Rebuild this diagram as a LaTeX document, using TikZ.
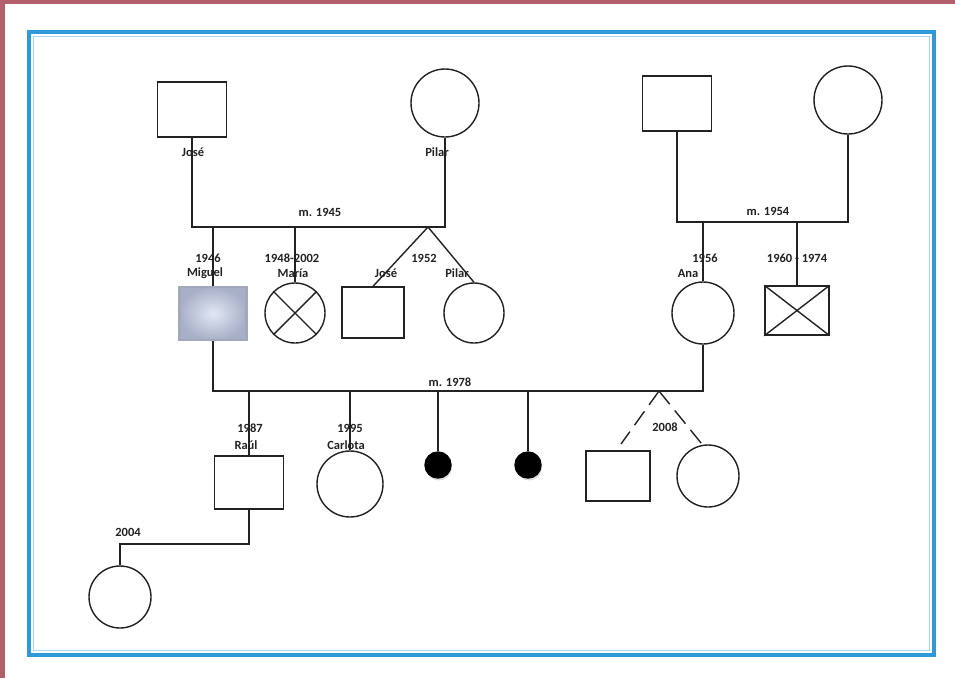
\documentclass[tikz,border=0pt]{standalone}
\usepackage{fontspec}
\setmainfont{Carlito}
\usetikzlibrary{shadows}
\definecolor{band}{HTML}{B4606C}
\definecolor{frameblue}{HTML}{2E9AD9}
\definecolor{framelight}{HTML}{A8D6F2}
\definecolor{ink}{HTML}{222222}
\definecolor{migin}{HTML}{E2E7F4}
\definecolor{migout}{HTML}{A8B0C8}
\begin{document}
\begin{tikzpicture}[x=1pt,y=-1pt, line width=1.4pt,
  ln/.style={draw=ink, line width=1.4pt},
  male/.style={draw=ink, line width=1.4pt, rectangle, inner sep=0pt, fill=white},
  female/.style={draw=ink, line width=1.4pt, circle, inner sep=0pt, fill=white},
  lbl/.style={inner sep=0pt, font=\bfseries\fontsize{12.5}{13}\selectfont, text=ink},
  dot/.style={circle, fill=black, draw=black, inner sep=0pt, minimum size=26pt,
     drop shadow={shadow xshift=1pt, shadow yshift=-2.5pt, fill=gray!30, opacity=0.9}},
  twinline/.style={draw=ink, line width=1.4pt, dash pattern=on 17pt off 8pt}
]
\useasboundingbox (0,0) rectangle (955,678);
\fill[band] (0,0) rectangle (955,4);
\fill[band] (0,0) rectangle (5,678);
\draw[frameblue, line width=4pt] (29,32) rectangle (934,655);
\draw[framelight, line width=1pt] (33.5,36.5) rectangle (929.5,650.5);

% generation 1
\node[male, minimum width=69pt, minimum height=55pt] (joseA) at (192,109.5) {};
\node[female, minimum size=68pt] (pilarA) at (445,103) {};
\node[male, minimum width=69pt, minimum height=55pt] (padreB) at (677,103.5) {};
\node[female, minimum size=68pt] (madreB) at (848,100) {};

\coordinate (m45l) at (192,227);
\coordinate (m45r) at (445,227);
\coordinate (tw1) at (428,227);
\coordinate (migtop) at (213,227);
\coordinate (martop) at (295,227);
\coordinate (m54l) at (677,222);
\coordinate (m54r) at (848,222);
\coordinate (anatop) at (703,222);
\coordinate (brotop) at (797,222);

% generation 2
\node[male, minimum width=67pt, minimum height=53pt, draw=migout!85!gray, line width=2.5pt,
      inner color=migin, outer color=migout,
      drop shadow={shadow xshift=1pt, shadow yshift=-1pt, fill=gray!40, opacity=0.6}] (miguel) at (213,313.5) {};
\node[female, minimum size=60pt] (maria) at (295,313) {};
\node[male, minimum width=62pt, minimum height=51pt] (jose2) at (373,312.5) {};
\node[female, minimum size=60pt] (pilar2) at (474,313) {};
\node[female, minimum size=62pt] (ana) at (703,313) {};
\node[male, minimum width=64pt, minimum height=49pt] (bro) at (797,310.5) {};

\draw[ln] (maria.north west) -- (maria.south east);
\draw[ln] (maria.north east) -- (maria.south west);
\draw[ln] (bro.north west) -- (bro.south east);
\draw[ln] (bro.north east) -- (bro.south west);

\draw[ln] (joseA) -- (m45l) -- (m45r) -- (pilarA);
\draw[ln] (migtop) -- (miguel);
\draw[ln] (martop) -- (maria);
\draw[ln] (tw1) -- (jose2.north);
\draw[ln] (tw1) -- (pilar2.north);
\draw[ln] (padreB) -- (m54l) -- (m54r) -- (madreB);
\draw[ln] (anatop) -- (ana);
\draw[ln] (brotop) -- (bro);

% marriage 1978
\coordinate (m78l) at (213,391);
\coordinate (m78r) at (703,391);
\coordinate (raultop) at (249,391);
\coordinate (cartop) at (350,391);
\coordinate (d1top) at (438,391);
\coordinate (d2top) at (528,391);
\coordinate (tw2) at (659,391);
\draw[ln] (miguel) -- (m78l) -- (m78r) -- (ana);

% generation 3
\node[male, minimum width=69pt, minimum height=53pt] (raul) at (249,482.5) {};
\node[female, minimum size=66pt] (carlota) at (350,484) {};
\node[dot] (d1) at (438,465) {};
\node[dot] (d2) at (528,465) {};
\node[male, minimum width=64pt, minimum height=50pt] (sq2) at (618,476) {};
\node[female, minimum size=62pt] (ci2) at (708,476) {};
\coordinate (tw2end) at (621,444);

\draw[ln] (raultop) -- (raul);
\draw[ln] (cartop) -- (carlota);
\draw[ln] (d1top) -- (d1);
\draw[ln] (d2top) -- (d2);
\draw[twinline] (tw2) -- (tw2end);
\draw[twinline] (tw2) -- (ci2.100);

% generation 4
\coordinate (g4r) at (249,544);
\coordinate (g4l) at (120,544);
\node[female, minimum size=62pt] (nieta) at (120,597) {};
\draw[ln] (raul) -- (g4r) -- (g4l) -- (nieta);

% labels
\node[lbl] (lJoseA) at (193,152) {José};
\node[lbl] (lPilarA) at (437,152) {Pilar};
\node[lbl] (lm45) at (320,212) {m. 1945};
\node[lbl] (lm54) at (768,211) {m. 1954};
\node[lbl] (l1946) at (208,258) {1946};
\node[lbl] (lMiguel) at (205,273) {Miguel};
\node[lbl] (l1948) at (292,258) {1948-2002};
\node[lbl] (lMaria) at (293,273) {María};
\node[lbl] (l1952) at (424,258) {1952};
\node[lbl] (lJose2) at (386,273) {José};
\node[lbl] (lPilar2) at (457,273) {Pilar};
\node[lbl] (l1956) at (705,258) {1956};
\node[lbl] (lAna) at (688,273) {Ana};
\node[lbl] (l1960) at (797,258) {1960 - 1974};
\node[lbl] (lm78) at (450,382) {m. 1978};
\node[lbl] (l1987) at (250,428) {1987};
\node[lbl] (lRaul) at (246,445) {Raúl};
\node[lbl] (l1995) at (350,428) {1995};
\node[lbl] (lCarlota) at (346,445) {Carlota};
\node[lbl] (l2008) at (665,427) {2008};
\node[lbl] (l2004) at (128,532) {2004};
\end{tikzpicture}
\end{document}
